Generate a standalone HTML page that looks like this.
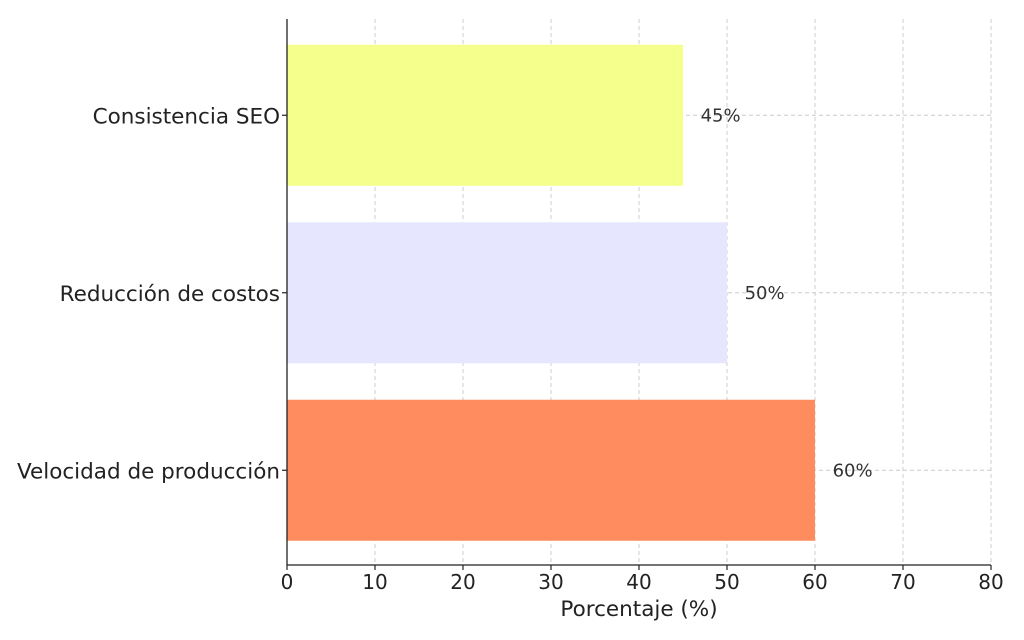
<!DOCTYPE html>
<html><head><meta charset="utf-8"><style>
html,body{margin:0;padding:0;background:#fff;}
svg{display:block;font-family:"DejaVu Sans","Liberation Sans",sans-serif;}
</style></head><body>
<svg id="chart" width="1024" height="640" viewBox="0 0 1024 640"></svg>
<script>
const categories = ["Velocidad de producción","Reducción de costos","Consistencia SEO"];
const values = [60, 50, 45];
const colors = ["#ff8c5e","#e6e7ff","#f4ff8c"];
const xTicks = [0,10,20,30,40,50,60,70,80];

const svg = document.getElementById('chart');
const NS = 'http://www.w3.org/2000/svg';
const X0 = 287, X1 = 991, XMAX = 80, YTOP = 19, YBOT = 565;
const xs = v => X0 + (v / XMAX) * (X1 - X0);
const bandTop = 26.5, bandStep = 177.5, barH = 141;
const yc = i => bandTop + (categories.length - 1 - i) * bandStep + bandStep / 2;

function mk(tag, attrs, parent) {
  const e = document.createElementNS(NS, tag);
  for (const k in attrs) e.setAttribute(k, attrs[k]);
  (parent || svg).appendChild(e);
  return e;
}

const grid = mk('g', {});


xTicks.forEach(t => {
  if (t === 0) return;
  const l = mk('line', {x1: xs(t), x2: xs(t), y1: YTOP, y2: YBOT, stroke: '#cccccc', 'stroke-width': 1, 'stroke-dasharray': '4,3'}, grid);
  
  
});
categories.forEach((c, i) => {
  const l = mk('line', {x1: X0, x2: X1, y1: yc(i), y2: yc(i), stroke: '#cccccc', 'stroke-width': 1, 'stroke-dasharray': '4,3'}, grid);
  
  
});

categories.forEach((c, i) => {
  const r = mk('rect', {x: X0, y: yc(i) - barH / 2, width: xs(values[i]) - X0, height: barH, fill: colors[i]});
  
  
  const t = mk('text', {x: xs(values[i] + 2), y: yc(i) + 6, 'font-size': 18, fill: '#333'});
  t.textContent = values[i] + '%';
  
  
  const lab = mk('text', {x: X0 - 7, y: yc(i) + 8, 'font-size': 21.5, fill: '#222', 'text-anchor': 'end'});
  lab.textContent = c;
  
  
  const tk = mk('line', {x1: X0 - 5, x2: X0, y1: yc(i), y2: yc(i), stroke: '#222', 'stroke-width': 1.2});
  
  
});

const ya = mk('line', {x1: X0, x2: X0, y1: YTOP, y2: YBOT, stroke: '#222', 'stroke-width': 1.3});


const xa = mk('line', {x1: X0, x2: X1, y1: YBOT, y2: YBOT, stroke: '#222', 'stroke-width': 1.3});



xTicks.forEach(t => {
  const tk = mk('line', {x1: xs(t), x2: xs(t), y1: YBOT, y2: YBOT + 5, stroke: '#222', 'stroke-width': 1.2});
  
  
  const tl = mk('text', {x: xs(t), y: YBOT + 24, 'font-size': 20, fill: '#222', 'text-anchor': 'middle'});
  tl.textContent = t;
  
  
});

const xt = mk('text', {x: (X0 + X1) / 2, y: 616, 'font-size': 21.5, fill: '#222', 'text-anchor': 'middle'});
xt.textContent = 'Porcentaje (%)';


</script>
</body></html>
